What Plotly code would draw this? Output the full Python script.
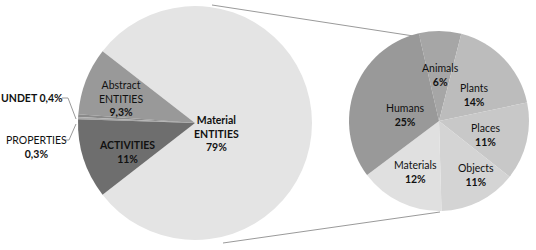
import plotly.graph_objects as go

# Left pie data
left_labels = ["Material ENTITIES", "Abstract ENTITIES", "UNDET", "PROPERTIES", "ACTIVITIES"]
left_values = [79, 9.3, 0.4, 0.3, 11]
left_colors = ["#e4e4e4", "#999999", "#8a8a8a", "#a8a8a8", "#6e6e6e"]

# Right pie data (breakdown of Material ENTITIES)
right_labels = ["Animals", "Plants", "Places", "Objects", "Materials", "Humans"]
right_values = [6, 14, 11, 11, 12, 25]
right_colors = ["#a6a6a6", "#bcbcbc", "#c8c8c8", "#d4d4d4", "#e0e0e0", "#999999"]

W, H = 536, 250
FONT = "Lato"

def px(x, y):
    return x / W, 1 - y / H

fig = go.Figure()

fig.add_trace(go.Pie(
    labels=left_labels, values=left_values, sort=False,
    direction="counterclockwise", rotation=-52.2,
    marker=dict(colors=left_colors, line=dict(width=0)),
    textinfo="none", hoverinfo="label+value",
    domain=dict(x=[78 / W, 312 / W], y=[10 / H, 244 / H]),
    showlegend=False,
))

fig.add_trace(go.Pie(
    labels=right_labels, values=right_values, sort=False,
    direction="clockwise", rotation=-13,
    marker=dict(colors=right_colors, line=dict(width=0)),
    textinfo="none", hoverinfo="label+value",
    domain=dict(x=[349 / W, 529 / W], y=[39 / H, 219 / H]),
    showlegend=False,
))

line_col = "#9a9a9a"
shapes = []
for (x0, y0, x1, y1) in [(212, 5, 420, 37), (223, 243, 440, 212),
                         (62, 98, 68, 98), (68, 98, 76, 119),
                         (64, 140, 69, 140), (69, 140, 76, 124)]:
    a = px(x0, y0)
    b = px(x1, y1)
    shapes.append(dict(type="line", xref="paper", yref="paper",
                       x0=a[0], y0=a[1], x1=b[0], y1=b[1],
                       line=dict(color=line_col, width=1)))

font = dict(family=FONT, size=10.5, color="#111111")
ann = []
def add(text, x, y):
    p = px(x, y)
    ann.append(dict(text=text, x=p[0], y=p[1], xref="paper", yref="paper",
                    showarrow=False, font=font, align="center",
                    xanchor="center", yanchor="middle"))

def pct(v):
    s = ("%g" % v).replace(".", ",")
    return s + "%"

# Left pie labels
add("<b>Material<br>ENTITIES<br>%s</b>" % pct(left_values[0]), 216, 133)
add("Abstract<br>ENTITIES<br><b>%s</b>" % pct(left_values[1]), 121, 98)
add("<b>UNDET %s</b>" % pct(left_values[2]), 32, 98)
add("PROPERTIES<br><b>%s</b>" % pct(left_values[3]), 36, 147)
add("<b>ACTIVITIES<br>%s</b>" % pct(left_values[4]), 127, 152)

# Right pie labels
right_pos = [(440, 75), (474, 95), (485, 135), (476, 175), (415, 172), (405, 115)]
for lab, v, (x, y) in zip(right_labels, right_values, right_pos):
    add("%s<br><b>%d%%</b>" % (lab, v), x, y)

fig.update_layout(
    width=W, height=H, margin=dict(l=0, r=0, t=0, b=0),
    paper_bgcolor="white", plot_bgcolor="white",
    shapes=shapes, annotations=ann,
)

fig.write_html("out.html", config={"displayModeBar": False},
               post_script="document.body.style.margin='0';document.body.style.overflow='hidden';")
